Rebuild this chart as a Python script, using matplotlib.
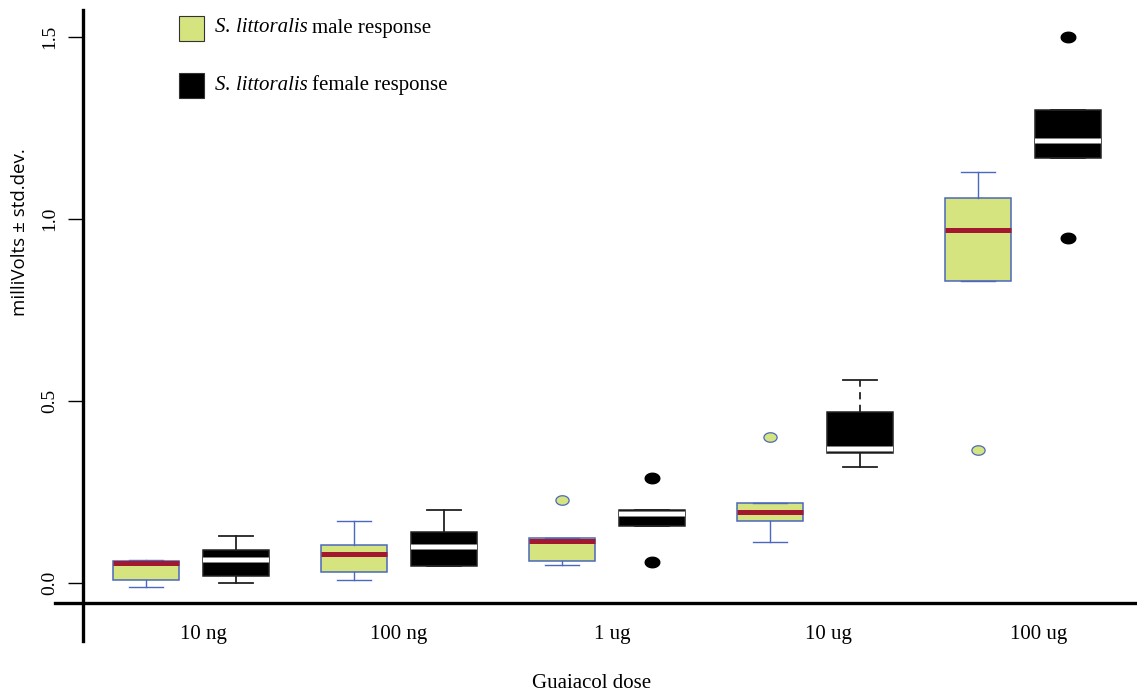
import matplotlib
matplotlib.use("Agg")
import matplotlib.pyplot as plt
from matplotlib.lines import Line2D
from matplotlib.patches import Rectangle
from matplotlib.path import Path
import matplotlib.patheffects as pe
import numpy as np

# ---- data ----
doses = ["10 ng", "100 ng", "1 ug", "10 ug", "100 ug"]

male_whislo = [-0.011, 0.008, 0.049, 0.113, 0.830]
male_q1 = [0.008, 0.030, 0.060, 0.170, 0.830]
male_med = [0.055, 0.080, 0.115, 0.195, 0.970]
male_q3 = [0.060, 0.104, 0.124, 0.220, 1.058]
male_whishi = [0.063, 0.170, 0.124, 0.220, 1.129]
male_outliers = [[], [], [0.228], [0.400], [0.365]]

female_whislo = [0.000, 0.047, 0.157, 0.319, 1.168]
female_q1 = [0.019, 0.047, 0.157, 0.357, 1.168]
female_med = [0.063, 0.099, 0.190, 0.368, 1.214]
female_q3 = [0.090, 0.140, 0.200, 0.470, 1.299]
female_whishi = [0.129, 0.200, 0.200, 0.558, 1.299]
female_outliers = [[], [], [0.289, 0.058], [], [1.500, 0.948]]

# ---- layout / style ----
W, H = 1137, 693
SERIF = "Liberation Serif"
MALE_FILL = "#d6e47f"
MALE_EDGE = "#4a68bd"
MALE_MED = "#a2192f"
OFFSET = 0.216
BOX_W = 0.317
CAP_W = 0.16
label_pos = [0.06, 1.0, 2.025, 3.063, 4.077]


def fx(px):
    return px / W


def fy(py):
    return 1 - py / H


def stats(lo, q1, med, q3, hi, fl):
    return [dict(whislo=a, q1=b, med=c, q3=d, whishi=e, fliers=f)
            for a, b, c, d, e, f in zip(lo, q1, med, q3, hi, fl)]


# ellipse marker (wider than tall)
t = np.linspace(0, 2 * np.pi, 40)
ellipse = Path(np.column_stack([np.cos(t), 0.72 * np.sin(t)]), closed=True)

fig = plt.figure(figsize=(W / 100, H / 100), dpi=100)
ax = fig.add_axes([fx(83), fy(603), fx(1137) - fx(83), fy(0) - fy(603)])
ax.set_xlim(-0.519, 4.548)
ax.set_ylim(-0.0549, 1.6016)
for s in ax.spines.values():
    s.set_visible(False)

g = np.arange(len(doses))

bm = ax.bxp(stats(male_whislo, male_q1, male_med, male_q3, male_whishi, male_outliers),
            positions=g - OFFSET, widths=BOX_W, capwidths=CAP_W, patch_artist=True,
            boxprops=dict(facecolor=MALE_FILL, edgecolor=MALE_EDGE, linewidth=1.1),
            medianprops=dict(color=MALE_MED, linewidth=3.6, solid_capstyle="butt"),
            whiskerprops=dict(color=MALE_EDGE, linewidth=1.0),
            capprops=dict(color=MALE_EDGE, linewidth=1.0),
            flierprops=dict(marker=ellipse, markersize=9.5, markerfacecolor=MALE_FILL,
                            markeredgecolor=MALE_EDGE, markeredgewidth=0.9,
                            linestyle="none"))

bf = ax.bxp(stats(female_whislo, female_q1, female_med, female_q3, female_whishi, female_outliers),
            positions=g + OFFSET, widths=BOX_W, capwidths=CAP_W, patch_artist=True,
            boxprops=dict(facecolor="black", edgecolor="#222222", linewidth=1.1),
            medianprops=dict(color="white", linewidth=3.0, solid_capstyle="butt",
                             path_effects=[pe.withStroke(linewidth=4.0, foreground="#9a9a9a")]),
            whiskerprops=dict(color="#222222", linewidth=1.3),
            capprops=dict(color="#222222", linewidth=1.3),
            flierprops=dict(marker=ellipse, markersize=10.5, markerfacecolor="black",
                            markeredgecolor="black", linestyle="none"))
# upper whisker of 10 ug female box is dashed
bf["whiskers"][2 * 3 + 1].set_linestyle((0, (4, 3)))

# ticks
ax.set_yticks([0.0, 0.5, 1.0, 1.5])
ax.set_yticklabels(["0.0", "0.5", "1.0", "1.5"], rotation=90, va="center",
                   fontfamily=SERIF, fontsize=14)
ax.tick_params(axis="y", length=11, width=1.0, pad=7, color="black")
ax.set_xticks(label_pos)
ax.set_xticklabels(doses, fontfamily=SERIF, fontsize=15)
ax.tick_params(axis="x", length=0, pad=16)

# axis lines extending past the corner
fig.add_artist(Line2D([fx(83), fx(83)], [fy(10), fy(641)], color="black", linewidth=2.4))
fig.add_artist(Line2D([fx(55), fx(1137)], [fy(603), fy(603)], color="black", linewidth=2.4))

fig.text(fx(592), fy(683), "Guaiacol dose", ha="center", va="center",
         fontfamily=SERIF, fontsize=15)
fig.text(fx(20), fy(232), "milliVolts \u00b1 std.dev.", ha="center", va="center",
         rotation=90, fontfamily="Open Sans", fontsize=13.5)

# legend built by hand
renderer = fig.canvas.get_renderer()
for yc, fill, sex in [(28, MALE_FILL, "male"), (85, "black", "female")]:
    fig.add_artist(Rectangle((fx(179), fy(yc + 12.5)), fx(25), 25 / H,
                             facecolor=fill, edgecolor="#333333", linewidth=0.8))
    it = fig.text(fx(215), fy(yc), "S. littoralis", ha="left", va="center",
                  fontfamily=SERIF, fontstyle="italic", fontsize=15)
    bb = it.get_window_extent(renderer)
    fig.text(bb.x1 / W + fx(4.5), fy(yc), f"{sex} response", ha="left", va="center",
             fontfamily=SERIF, fontsize=15)

fig.savefig("out.png", dpi=100)
